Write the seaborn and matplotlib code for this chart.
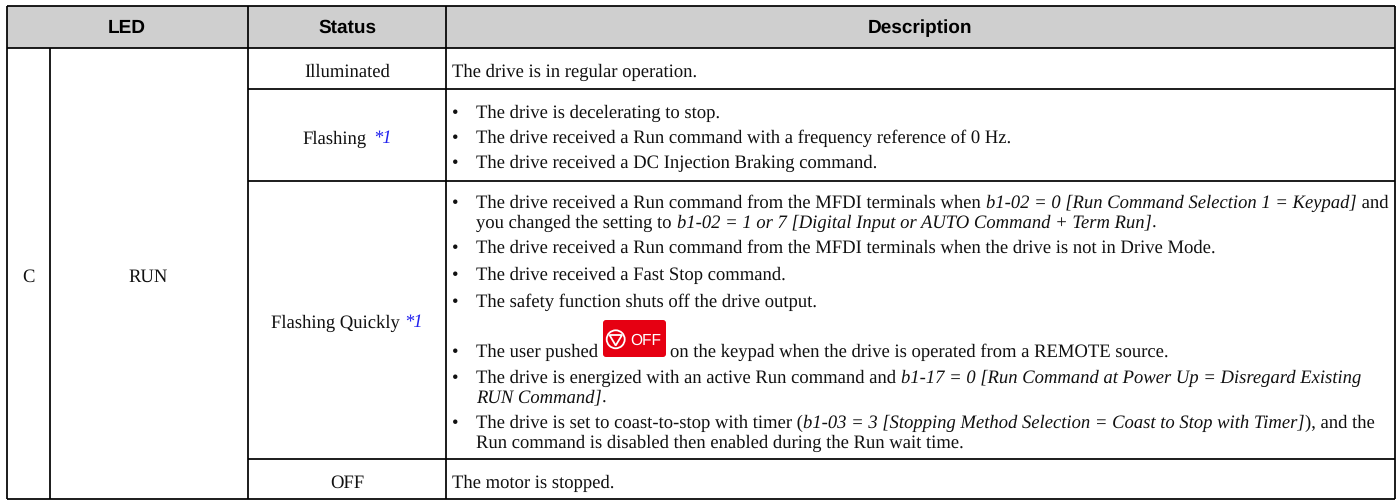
import matplotlib
matplotlib.use("Agg")
import matplotlib.pyplot as plt
import seaborn as sns
from matplotlib.patches import Circle, FancyBboxPatch, Polygon

# table content, _.._ marks italic text
header_labels = ["LED", "Status", "Description"]
led_code = "C"
led_name = "RUN"
status_labels = ["Illuminated", "Flashing", "Flashing Quickly", "OFF"]
status_notes = ["", "*1", "*1", ""]

illuminated_text = "The drive is in regular operation."
flashing_bullets = [
    ["The drive is decelerating to stop."],
    ["The drive received a Run command with a frequency reference of 0 Hz."],
    ["The drive received a DC Injection Braking command."],
]
quick_bullets = [
    ["The drive received a Run command from the MFDI terminals when _b1-02 = 0 [Run Command Selection 1 = Keypad]_ and",
     "you changed the setting to _b1-02 = 1 or 7 [Digital Input or AUTO Command + Term Run]_."],
    ["The drive received a Run command from the MFDI terminals when the drive is not in Drive Mode."],
    ["The drive received a Fast Stop command."],
    ["The safety function shuts off the drive output."],
]
pushed_before = "The user pushed"
pushed_after = "on the keypad when the drive is operated from a REMOTE source."
icon_label = "OFF"
last_bullets = [
    ["The drive is energized with an active Run command and _b1-17 = 0 [Run Command at Power Up = Disregard Existing_",
     "_RUN Command]_."],
    ["The drive is set to coast-to-stop with timer (_b1-03 = 3 [Stopping Method Selection = Coast to Stop with Timer]_), and the",
     "Run command is disabled then enabled during the Run wait time."],
]
off_text = "The motor is stopped."

# layout in pixels
col_lines = [6.5, 248, 446, 1395]
row_lines = [5.5, 48, 88.5, 181, 459, 499]
status_base = [77, 144, 328, 488]
flashing_base = [118, 143, 168]
quick_base = [208, 253, 280, 307]
last_base = [383, 428]

sns.set_theme(style="white")
plt.rcParams["text.hinting"] = "no_hinting"

fig = plt.figure(figsize=(14, 5), dpi=100)
ax = fig.add_axes([0, 0, 1, 1])
ax.set_xlim(0, 1400)
ax.set_ylim(500, 0)
ax.axis("off")
ax.patch.set_alpha(0)

# grey header band
band = fig.add_axes([col_lines[0] / 1400, 1 - row_lines[1] / 500,
                     (col_lines[3] - col_lines[0]) / 1400, (row_lines[1] - row_lines[0]) / 500], zorder=-1)
sns.heatmap([[1]], ax=band, cmap=["#cfcfcf"], cbar=False, xticklabels=False, yticklabels=False)

renderer = fig.canvas.get_renderer()
SERIF = "Liberation Serif"
SIZE = 13.4


def text_width(s, **kw):
    probe = ax.text(0, 0, s + ".", **kw)
    dot = ax.text(0, 0, ".", **kw)
    w = probe.get_window_extent(renderer).width - dot.get_window_extent(renderer).width
    probe.remove()
    dot.remove()
    return w


def draw_line(x, y, line):
    # odd pieces of the split are italic
    for i, piece in enumerate(line.split("_")):
        if not piece:
            continue
        kw = dict(family=SERIF, fontsize=SIZE, color="#111111", style="italic" if i % 2 else "normal")
        ax.text(x, y, piece, va="baseline", ha="left", **kw)
        x += text_width(piece, **kw)
    return x


def draw_bullet(y, lines, leading=19.5):
    ax.text(451.5, y, "\u2022", family=SERIF, fontsize=SIZE, color="#111111", va="baseline", ha="left")
    for k, line in enumerate(lines):
        draw_line(476.5, y + k * leading, line)


# grid
lw = 1.25
ax.hlines(row_lines[0:2] + [row_lines[5]], col_lines[0], col_lines[3], color="black", lw=lw)
ax.hlines(row_lines[2:5], col_lines[1], col_lines[3], color="black", lw=lw)
ax.vlines(col_lines, row_lines[0], row_lines[5], color="black", lw=lw)
ax.vlines(50, row_lines[1], row_lines[5], color="black", lw=lw)

# header
head_kw = dict(family="Liberation Sans", weight="bold", fontsize=13.7, color="black", va="baseline", ha="center")
ax.text(127, 33, header_labels[0], **head_kw)
ax.text(347, 33, header_labels[1], **head_kw)
ax.text(920, 33, header_labels[2], **head_kw)

# LED columns
ax.text(28, 282, led_code, family=SERIF, fontsize=SIZE, color="#111111", va="baseline", ha="center")
ax.text(148.5, 282, led_name, family=SERIF, fontsize=SIZE, color="#111111", va="baseline", ha="center")

# status column
for label, note, y in zip(status_labels, status_notes, status_base):
    kw = dict(family=SERIF, fontsize=SIZE, color="#111111")
    if note:
        gap = 6
        note_kw = dict(family=SERIF, fontsize=SIZE, style="italic", color="#2222ee")
        total = text_width(label, **kw) + gap + text_width(note, **note_kw)
        x = 347 - total / 2
        ax.text(x, y, label, va="baseline", ha="left", **kw)
        ax.text(x + total - text_width(note, **note_kw), y - 1, note, va="baseline", ha="left", **note_kw)
    else:
        ax.text(347, y, label, va="baseline", ha="center", **kw)

# description column
draw_line(452, status_base[0], illuminated_text)
for lines, y in zip(flashing_bullets, flashing_base):
    draw_bullet(y, lines)
for lines, y in zip(quick_bullets, quick_base):
    draw_bullet(y, lines)
draw_bullet(357, [pushed_before])
draw_line(670.5, 357, pushed_after)
for lines, y in zip(last_bullets, last_base):
    draw_bullet(y, lines)
draw_line(452, status_base[3], off_text)

# OFF key icon
ax.add_patch(FancyBboxPatch((603, 320), 63, 37, boxstyle="round,pad=0,rounding_size=3",
                            fc="#e60012", ec="none", zorder=3))
ax.add_patch(Circle((615.7, 339.3), 9, fc="none", ec="white", lw=1.3, zorder=4))
ax.add_patch(Polygon([(609.5, 335), (622, 335), (615.7, 345.5)], closed=True, fc="none", ec="white", lw=1.3, zorder=4))
ax.text(646, 339, icon_label, family="Liberation Sans", fontsize=11.2, color="white", va="center_baseline", ha="center", zorder=4)

fig.savefig("out.png", dpi=100)
